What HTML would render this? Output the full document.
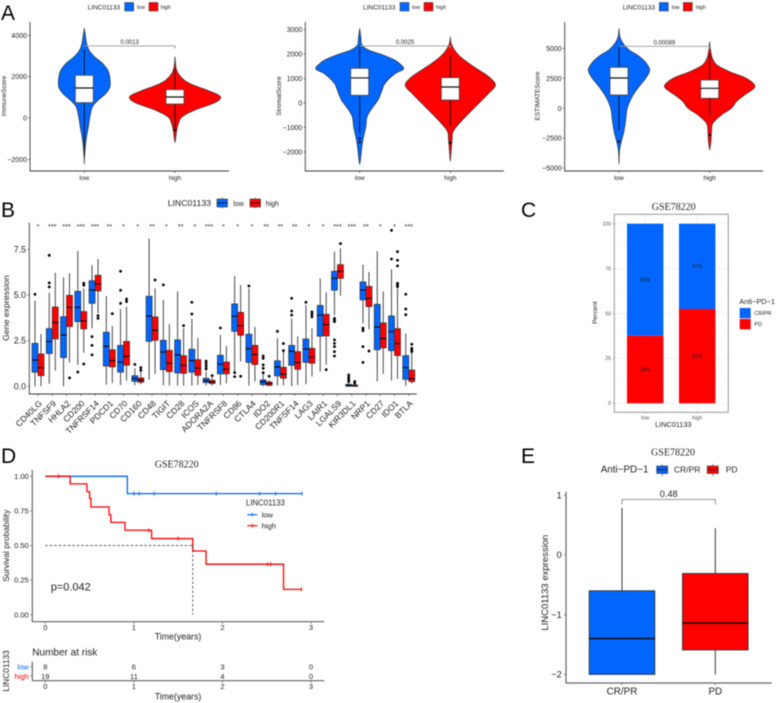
<!DOCTYPE html>
<html>
<head>
<meta charset="utf-8">
<title>LINC01133 figure</title>
<style>
html,body{margin:0;padding:0;background:#fff;width:777px;height:703px;overflow:hidden}
svg{display:block;filter:blur(0.4px)}
text{font-family:"Liberation Sans",sans-serif;fill:#222}
.serif{font-family:"Liberation Serif",serif}
.letter{font-size:21px;fill:#000}
</style>
</head>
<body>
<svg id="figure" width="777" height="703" viewBox="0 0 777 703" xmlns="http://www.w3.org/2000/svg">
<rect width="777" height="703" fill="#fff"/>
<text class="letter" x="1" y="20">A</text>
<text class="letter" x="1" y="217">B</text>
<text class="letter" x="521" y="217">C</text>
<text class="letter" x="1" y="463">D</text>
<text class="letter" x="521" y="463">E</text>

<g id="panelA1"></g>
<g id="panelA2"></g>
<g id="panelA3"></g>
<g id="panelB"></g>
<g id="panelC"></g>
<g id="panelD"></g>
<g id="panelE"></g>

<!-- A legends and titles -->
<g>
<text x="87.7" y="9.5" font-size="6.5">LINC01133</text>
<rect x="124.7" y="2.5" width="9" height="8.5" fill="#0066ff" stroke="#444" stroke-width=".6"/>
<text x="137" y="9.2" font-size="5.3">low</text>
<rect x="149" y="2.5" width="9" height="8.5" fill="#f00" stroke="#444" stroke-width=".6"/>
<text x="160.7" y="9.2" font-size="5.3">high</text>
</g>
<g>
<text x="363" y="9.5" font-size="6.5">LINC01133</text>
<rect x="400" y="2.5" width="9" height="8.5" fill="#0066ff" stroke="#444" stroke-width=".6"/>
<text x="412" y="9.2" font-size="5.3">low</text>
<rect x="424" y="2.5" width="9" height="8.5" fill="#f00" stroke="#444" stroke-width=".6"/>
<text x="436" y="9.2" font-size="5.3">high</text>
</g>
<g>
<text x="622.7" y="9.5" font-size="6.5">LINC01133</text>
<rect x="659.3" y="2.5" width="9" height="8.5" fill="#0066ff" stroke="#444" stroke-width=".6"/>
<text x="671.7" y="9.2" font-size="5.3">low</text>
<rect x="683.3" y="2.5" width="9" height="8.5" fill="#f00" stroke="#444" stroke-width=".6"/>
<text x="695.7" y="9.2" font-size="5.3">high</text>
</g>
<text transform="translate(6.2,96) rotate(-90)" text-anchor="middle" font-size="6.5">ImmuneScore</text>
<text transform="translate(281,96) rotate(-90)" text-anchor="middle" font-size="6.5">StromalScore</text>
<text transform="translate(539.5,96) rotate(-90)" text-anchor="middle" font-size="6.5">ESTIMATEScore</text>

<!-- B legend and title -->
<g>
<text x="167.7" y="206" font-size="8.7">LINC01133</text>
<line x1="222.3" y1="197.5" x2="222.3" y2="208.5" stroke="#444" stroke-width=".7"/>
<rect x="217" y="199" width="10.5" height="8" fill="#0066ff" stroke="#444" stroke-width=".7"/>
<line x1="217" y1="203" x2="227.5" y2="203" stroke="#111" stroke-width=".8"/>
<text x="233.3" y="206" font-size="7">low</text>
<line x1="255.2" y1="197.5" x2="255.2" y2="208.5" stroke="#444" stroke-width=".7"/>
<rect x="250" y="199" width="10.5" height="8" fill="#f00" stroke="#444" stroke-width=".7"/>
<line x1="250" y1="203" x2="260.5" y2="203" stroke="#111" stroke-width=".8"/>
<text x="265.7" y="206" font-size="7">high</text>
</g>
<text transform="translate(9,308) rotate(-90)" text-anchor="middle" font-size="8.7">Gene expression</text>

<!-- C titles and legend -->
<text class="serif" x="673.7" y="210" text-anchor="middle" font-size="10">GSE78220</text>
<text transform="translate(597,312.7) rotate(-90)" text-anchor="middle" font-size="6.5">Percent</text>
<text x="673.3" y="427" text-anchor="middle" font-size="7.3">LINC01133</text>
<g>
<text x="739.3" y="304" font-size="7.4">Anti−PD−1</text>
<rect x="739.7" y="308" width="11" height="10.3" fill="#0066ff"/>
<rect x="739.7" y="319" width="11" height="10.3" fill="#f00"/>
<text x="754.3" y="315.2" font-size="5.5">CR/PR</text>
<text x="754.3" y="326" font-size="5.5">PD</text>
</g>

<!-- D titles and legend -->
<text class="serif" x="176.7" y="467.7" text-anchor="middle" font-size="10">GSE78220</text>
<text transform="translate(9,545.7) rotate(-90)" text-anchor="middle" font-size="8.6">Survival probability</text>
<text x="178" y="639.5" text-anchor="middle" font-size="8.8">Time(years)</text>
<text x="50.7" y="590.7" font-size="11">p=0.042</text>
<g>
<text x="246" y="505.3" font-size="7.8">LINC01133</text>
<line x1="247.3" y1="514.7" x2="257.3" y2="514.7" stroke="#0066ff" stroke-width="1.2"/>
<line x1="252.3" y1="512.7" x2="252.3" y2="516.7" stroke="#0066ff" stroke-width=".8"/>
<text x="261.7" y="517.5" font-size="7.5">low</text>
<line x1="247.3" y1="525.7" x2="257.3" y2="525.7" stroke="#f00" stroke-width="1.2"/>
<line x1="252.3" y1="523.7" x2="252.3" y2="527.7" stroke="#f00" stroke-width=".8"/>
<text x="261.7" y="528.5" font-size="7.5">high</text>
</g>
<text x="32.3" y="655.5" font-size="10">Number at risk</text>
<text transform="translate(9,671) rotate(-90)" text-anchor="middle" font-size="8.3">LINC01133</text>
<text x="178" y="699.5" text-anchor="middle" font-size="8.8">Time(years)</text>
<text x="28.7" y="669.3" text-anchor="end" font-size="7.5" style="fill:#0066ff">low</text>
<text x="28.7" y="678.8" text-anchor="end" font-size="7.5" style="fill:#f00">high</text>

<!-- E titles and legend -->
<text class="serif" x="673" y="455.5" text-anchor="middle" font-size="10">GSE78220</text>
<g>
<text x="600.7" y="472.7" font-size="9.9">Anti−PD−1</text>
<line x1="662.2" y1="464" x2="662.2" y2="476" stroke="#444" stroke-width=".7"/>
<rect x="656.7" y="466" width="11" height="7.5" fill="#0066ff" stroke="#444" stroke-width=".7"/>
<line x1="656.7" y1="469.7" x2="667.7" y2="469.7" stroke="#111" stroke-width=".8"/>
<text x="674" y="472.5" font-size="8.5">CR/PR</text>
<line x1="712.8" y1="464" x2="712.8" y2="476" stroke="#444" stroke-width=".7"/>
<rect x="707.3" y="466" width="11" height="7.5" fill="#f00" stroke="#444" stroke-width=".7"/>
<line x1="707.3" y1="469.7" x2="718.3" y2="469.7" stroke="#111" stroke-width=".8"/>
<text x="725.7" y="472.5" font-size="8.5">PD</text>
</g>
<text transform="translate(548,582.7) rotate(-90)" text-anchor="middle" font-size="9.5">LINC01133 expression</text>
</svg>

<script>
// ---------- Panel A data ----------
const violinCategories = ['low', 'high'];

const immuneTicks = [-2000, 0, 2000, 4000];
const immuneLowLevels = [4340,3936,3613,3290,2968,2645,2323,2000,1516,1193,871,548,65,-419,-903,-1387,-1871,-2242];
const immuneLowDensity = [0,.05,.09,.18,.39,.71,.91,.99,1,.84,.55,.32,.22,.16,.09,.04,.01,0];
const immuneHighLevels = [2968,2484,2161,1839,1597,1355,1113,935,710,387,65,-177,-581,-903,-1194];
const immuneHighDensity = [0,.02,.07,.2,.4,.7,.96,1,.85,.44,.16,.09,.04,.02,0];
const immuneLowBox = [-1871,742,1452,2065,3290];
const immuneHighBox = [-500,677,1016,1371,2403];
const immuneLowOutliers = [];
const immuneHighOutliers = [-581];
const immuneBracket = 3484;
const immunePValue = '0.0013';

const stromalTicks = [-2000, -1000, 0, 1000, 2000, 3000];
const stromalLowLevels = [3060,2650,2377,2172,1967,1762,1557,1380,1189,806,464,123,-219,-560,-970,-1380,-1790,-2130,-2514];
const stromalLowDensity = [0,.03,.05,.2,.53,.8,.95,1,.8,.58,.5,.42,.28,.17,.14,.09,.05,.03,0];
const stromalHighLevels = [2719,2445,2172,1899,1626,1352,1079,738,396,-14,-423,-833,-1175,-1516,-1926,-2390];
const stromalHighDensity = [0,.02,.09,.22,.41,.63,.85,1,.85,.63,.41,.2,.06,.04,.02,0];
const stromalLowBox = [-1243,314,1025,1420,2377];
const stromalHighBox = [-943,123,656,1038,1967];
const stromalLowOutliers = [-1450,-1600];
const stromalHighOutliers = [-1626];
const stromalBracket = 2336;
const stromalPValue = '0.0025';

const estimateTicks = [-5000, -2500, 0, 2500, 5000];
const estimateLowLevels = [6685,5989,5432,4875,4457,3900,3203,2507,1811,975,0,-975,-1950,-2646,-3343,-3900,-4680];
const estimateLowDensity = [0,.03,.13,.33,.6,.85,1,.87,.65,.43,.27,.22,.16,.09,.03,.01,0];
const estimateHighLevels = [5571,4875,4178,3621,3064,2507,1811,1114,557,0,-557,-1253,-1950,-2646,-3482];
const estimateHighDensity = [0,.02,.06,.16,.44,.81,1,.77,.59,.48,.26,.07,.04,.03,0];
const estimateLowBox = [-1866,1114,2535,3426,5153];
const estimateHighBox = [-640,836,1671,2368,4596];
const estimateLowOutliers = [-2785];
const estimateHighOutliers = [-2228];
const estimateBracket = 5181;
const estimatePValue = '0.00089';

// ---------- Panel B data ----------
const geneNames = ['CD40LG','TNFSF9','HHLA2','CD200','TNFRSF14','PDCD1','CD70','CD160','CD48','TIGIT','CD28','ICOS','ADORA2A','TNFRSF8','CD86','CTLA4','IDO2','CD200R1','TNFSF14','LAG3','LAIR1','LGALS9','KIR3DL1','NRP1','CD27','IDO1','BTLA'];
const geneStars = ['*','***','***','***','***','**','*','*','**','*','**','*','***','*','*','*','**','**','**','*','*','***','***','**','*','*','***'];
const geneTicks = [0, 2.5, 5, 7.5];
const geneTickLabels = ['0.0','2.5','5.0','7.5'];
// each box: lower whisker, q1, median, q3, upper whisker
const geneLowBoxes = [
[0,.77,1.44,2.35,4.69],[.13,1.79,2.45,3.16,5.13],[0,1.57,2.81,3.81,5.97],[1.17,3.54,4.32,5.2,7.41],[3.18,4.54,5.27,5.78,6.64],
[.09,1.11,2.19,2.96,4.95],[.07,.77,1.33,2.24,4.23],[.05,.27,.42,.58,.99],[.36,2.46,3.85,4.93,8.1],[.04,.91,1.88,2.52,4.73],
[.04,.73,1.72,2.54,5.2],[.04,.77,1.41,2.03,3.7],[.04,.2,.31,.44,.8],[.07,.68,1.22,1.7,2.81],[.71,3.01,3.83,4.51,6.04],
[.04,1.31,2.06,2.85,5.35],[.01,.09,.25,.35,.8],[.04,.57,1.06,1.4,2.63],[0,1.15,1.92,2.24,3.72],[.11,1.31,2.04,2.59,4.45],
[.8,2.74,3.9,4.43,5.91],[3.9,5.26,5.91,6.3,7.37],[0,0,.05,.11,.2],[3.45,4.73,5.27,5.71,6.66],[.26,2,3.25,4.49,7.39],
[.31,1.95,2.99,3.85,6.41],[.02,.38,1.02,1.68,2.9]];
const geneHighBoxes = [
[0,.58,1.02,1.77,2.86],[.86,2.59,3.49,4.34,6.22],[1.31,3.27,4.32,4.98,6.19],[1.84,3.14,3.58,4.09,5.36],[4,5.22,5.6,6.08,6.97],
[.18,1.06,1.41,2,3.3],[.31,1.15,1.64,2.46,4.36],[.11,.22,.33,.46,.8],[.68,2.52,3.07,3.8,5.36],[.04,.8,1.26,1.97,3.41],
[.04,.71,1.15,1.68,3.18],[.07,.6,1,1.46,2.65],[.04,.15,.24,.33,.47],[.16,.68,.93,1.33,2.21],[1.35,2.79,3.32,4.05,5.55],
[.26,1.19,1.75,2.24,3.25],[0,.05,.15,.24,.35],[.04,.44,.66,1.04,2.03],[.07,.93,1.3,1.9,2.74],[.53,1.26,1.59,2.08,3.18],
[1.17,2.76,3.38,3.94,5.15],[4.96,5.91,6.3,6.66,7.55],[0,0,.02,.07,.1],[3.12,4.36,4.82,5.47,6.26],[.68,2.1,2.61,3.47,5.2],
[.4,1.68,2.34,3.16,5.36],[.15,.26,.42,.89,1.81]];
const geneLowOutliers = [
[5.04],[7.17,5.66,5.44],[],[.78],[2.72,2.24,1.72],
[],[6.3,5.26,4.54],[1.2],[],[5.55],
[],[4.6,3.96],[1.38,1.25,1.1,.95],[3.19],[.75,.53],
[5.49],[1.66,1.53,1.17,.99,.75],[3.01],[4.82,4.12,3.9],[4.6],
[],[3.72,3.63,3.54,2.54,2.35,2.17,1.9,1.66],[.62,.49,.38,.26],[3.18,3.05,2.17,1.31],[],
[8.54,6.97],[5.04,4.23,3.92]];
const geneHighOutliers = [
[],[],[.46],[1.22,5.64,5.53],[3.87,3.72],
[3.98],[4.78,4.64],[1.02,.88],[5.82],[],
[3.32],[],[.58],[],[.55],
[],[.55],[2.34,1.95],[],[4.07,3.94,3.8],
[.91],[7.81],[.26,.16],[1.93],[],
[7.37,6.9,6.59,5.64,5.55,5.46],[2.3,2.08,1.99,1.9]];

// ---------- Panel C data ----------
const stackCategories = ['low','high'];
const stackTicks = [0,25,50,75,100];
const stackPdPercent = [37.6,52.5];
const stackPdLabels = ['38%','53%'];
const stackCrLabels = ['62%','47%'];

// ---------- Panel D data ----------
const survivalYTicks = [0,.25,.5,.75,1];
const survivalYLabels = ['0.00','0.25','0.50','0.75','1.00'];
const survivalXTicks = [0,1,2,3];
const lowEventTimes = [.926];
const lowEventSurvival = [.875];
const lowEndTime = 2.9;
const lowCensorTimes = [1,1.06,1.23,1.93,2.42,2.6,2.9];
const highEventTimes = [.28,.47,.5,.515,.72,.74,.9,1.2,1.665,1.815,2.69];
const highEventSurvival = [.945,.889,.84,.778,.722,.667,.61,.55,.46,.365,.183];
const highEndTime = 2.9;
const highCensorTimes = [.15,1.17,1.5,2.51,2.545,2.89];
const medianSurvivalTime = 1.665;
const riskLow = [8,6,3,0];
const riskHigh = [19,11,4,0];

// ---------- Panel E data ----------
const exprCategories = ['CR/PR','PD'];
const exprTicks = [-2,-1,0,1];
const exprCrBox = [-2,-2,-1.4,-.6,.79];
const exprPdBox = [-2,-1.59,-1.14,-.31,.45];
const exprBracket = .93;
const exprPValue = '0.48';

// ---------- helpers ----------
const NS = 'http://www.w3.org/2000/svg';
const BLUE = '#0066ff', RED = '#ff0000', AX = '#3a3a3a';
function scale(d0, r0, d1, r1) { return v => r0 + (v - d0) * (r1 - r0) / (d1 - d0); }
function line(g, x1, y1, x2, y2, stroke, sw, name, dash) {
  const e = document.createElementNS(NS, 'line');
  e.setAttribute('x1', x1); e.setAttribute('y1', y1); e.setAttribute('x2', x2); e.setAttribute('y2', y2);
  e.setAttribute('stroke', stroke); e.setAttribute('stroke-width', sw);
  if (dash) e.setAttribute('stroke-dasharray', dash);
  
  
  g.appendChild(e); return e;
}
function rect(g, x, y, w, h, fill, stroke, sw, name) {
  const e = document.createElementNS(NS, 'rect');
  e.setAttribute('x', x); e.setAttribute('y', y); e.setAttribute('width', w); e.setAttribute('height', h);
  e.setAttribute('fill', fill);
  if (stroke) { e.setAttribute('stroke', stroke); e.setAttribute('stroke-width', sw); }
  
  
  g.appendChild(e); return e;
}
function circle(g, cx, cy, r, name) {
  const e = document.createElementNS(NS, 'circle');
  e.setAttribute('cx', cx); e.setAttribute('cy', cy); e.setAttribute('r', r); e.setAttribute('fill', '#000');
  
  
  g.appendChild(e); return e;
}
function path(g, d, fill, stroke, sw, name, join) {
  const e = document.createElementNS(NS, 'path');
  e.setAttribute('d', d); e.setAttribute('fill', fill); e.setAttribute('stroke', stroke); e.setAttribute('stroke-width', sw);
  if (join) e.setAttribute('stroke-linejoin', join);
  
  
  g.appendChild(e); return e;
}
function text(g, x, y, str, size, anchor, name, fill, rot) {
  const e = document.createElementNS(NS, 'text');
  if (rot) e.setAttribute('transform', 'translate(' + x + ',' + y + ') rotate(' + rot + ')');
  else { e.setAttribute('x', x); e.setAttribute('y', y); }
  e.setAttribute('font-size', size);
  e.setAttribute('text-anchor', anchor);
  if (fill) e.style.fill = fill;
  
  
  e.textContent = str;
  g.appendChild(e); return e;
}
function fmt(v) { return String(v).replace('-', '\u2212'); }
function smooth(pts) {
  let d = 'M' + pts[0][0] + ' ' + pts[0][1];
  for (let i = 0; i < pts.length - 1; i++) {
    const p0 = pts[Math.max(0, i - 1)], p1 = pts[i], p2 = pts[i + 1], p3 = pts[Math.min(pts.length - 1, i + 2)];
    d += 'C' + (p1[0] + (p2[0] - p0[0]) / 6) + ' ' + (p1[1] + (p2[1] - p0[1]) / 6) + ' ' +
         (p2[0] - (p3[0] - p1[0]) / 6) + ' ' + (p2[1] - (p3[1] - p1[1]) / 6) + ' ' + p2[0] + ' ' + p2[1];
  }
  return d;
}

// ---------- Panel A ----------
function drawViolin(g, cx, halfWidth, levels, density, box, outliers, y, fill, name) {
  const right = levels.map((v, i) => [cx + density[i] * halfWidth, y(v)]);
  const left = levels.map((v, i) => [cx - density[i] * halfWidth, y(v)]).reverse();
  path(g, smooth(right.concat(left.slice(1))) + 'Z', fill, '#333', .7, name + '-violin');
  line(g, cx, y(box[0]), cx, y(box[4]), '#111', .9, name + '-whisker');
  rect(g, cx - 9, y(box[3]), 18, y(box[1]) - y(box[3]), '#fff', '#444', .8, name + '-box');
  line(g, cx - 9, y(box[2]), cx + 9, y(box[2]), '#111', 1.2, name + '-median');
  outliers.forEach(v => circle(g, cx, y(v), 1.2, name + '-outlier'));
}
function drawViolinPanel(id, axisX, axisRight, xLow, xHigh, y, ticks, wLow, wHigh, lowL, lowD, highL, highD, lowB, highB, lowO, highO, bracket, pval) {
  const g = document.getElementById(id);
  const xs = [xLow, xHigh];
  drawViolin(g, xLow, wLow, lowL, lowD, lowB, lowO, y, BLUE, 'low');
  drawViolin(g, xHigh, wHigh, highL, highD, highB, highO, y, RED, 'high');
  line(g, axisX, 22, axisX, 171.5, AX, .9, 'y-axis-line');
  line(g, axisX, 171, axisRight, 171, AX, .9, 'x-axis-line');
  ticks.forEach(t => {
    line(g, axisX - 2, y(t), axisX, y(t), AX, .6, 'y-tick');
    text(g, axisX - 3, y(t) + 2.5, fmt(t), 7, 'end', 'y-tick-label');
  });
  violinCategories.forEach((c, i) => {
    line(g, xs[i], 171, xs[i], 173, AX, .6, 'x-tick');
    text(g, xs[i], 180, c, 6.5, 'middle', 'x-tick-label');
  });
  const by = y(bracket);
  path(g, 'M' + xLow + ' ' + (by + .5) + 'V' + by + 'H' + xHigh + 'V' + (by + 2.5), 'none', '#999', .9, 'significance-bracket');
  text(g, (xLow + xHigh) / 2, by - 1.8, pval, 6, 'middle', 'p-value-label');
}
drawViolinPanel('panelA1', 30, 229, 84.3, 175, scale(0, 118, 4000, 35.3), immuneTicks, 25.7, 45.3,
  immuneLowLevels, immuneLowDensity, immuneHighLevels, immuneHighDensity, immuneLowBox, immuneHighBox, immuneLowOutliers, immuneHighOutliers, immuneBracket, immunePValue);
drawViolinPanel('panelA2', 305.3, 504, 359.7, 450.3, scale(0, 103, 3000, 29.7), stromalTicks, 43.7, 45.2,
  stromalLowLevels, stromalLowDensity, stromalHighLevels, stromalHighDensity, stromalLowBox, stromalHighBox, stromalLowOutliers, stromalHighOutliers, stromalBracket, stromalPValue);
drawViolinPanel('panelA3', 564.7, 763, 619, 709.7, scale(0, 108.3, 5000, 48.5), estimateTicks, 30.7, 45.3,
  estimateLowLevels, estimateLowDensity, estimateHighLevels, estimateHighDensity, estimateLowBox, estimateHighBox, estimateLowOutliers, estimateHighOutliers, estimateBracket, estimatePValue);

// ---------- Panel B ----------
(function () {
  const g = document.getElementById('panelB');
  const y = scale(0, 386.3, 7.5, 249.3);
  const x = i => 38 + i * 14.26;
  function box(cx, b, outs, fill, name) {
    line(g, cx, y(b[0]), cx, y(b[4]), '#333', .9, name + '-whisker');
    rect(g, cx - 3, y(b[3]), 6, Math.max(.5, y(b[1]) - y(b[3])), fill, '#333', .7, name + '-box');
    line(g, cx - 3, y(b[2]), cx + 3, y(b[2]), '#000', 1.1, name + '-median');
    outs.forEach(v => circle(g, cx, y(v), 1.4, name + '-outlier'));
  }
  geneNames.forEach((n, i) => {
    const key = n.toLowerCase();
    box(x(i) - 3, geneLowBoxes[i], geneLowOutliers[i], BLUE, key + '-low');
    box(x(i) + 3, geneHighBoxes[i], geneHighOutliers[i], RED, key + '-high');
    text(g, x(i), 229, geneStars[i], 7.2, 'middle', key + '-significance');
    line(g, x(i), 394, x(i), 396, AX, .6, 'x-tick');
    text(g, x(i) + 4.5, 404, n, 8.5, 'end', key + '-label', null, -45);
  });
  line(g, 29.3, 222.7, 29.3, 394.5, AX, .9, 'y-axis-line');
  line(g, 29.3, 394, 416.7, 394, AX, .9, 'x-axis-line');
  geneTicks.forEach((t, i) => {
    line(g, 27.3, y(t), 29.3, y(t), AX, .6, 'y-tick');
    text(g, 26, y(t) + 3.1, geneTickLabels[i], 8.8, 'end', 'y-tick-label');
  });
})();

// ---------- Panel C ----------
(function () {
  const g = document.getElementById('panelC');
  const y = scale(0, 403.3, 100, 223.7);
  const x = [645.2, 697.2];
  const L = 614.3, R = 728.3, T = 214.3, B = 412.3;
  [12.5, 37.5, 62.5, 87.5].forEach(t => line(g, L, y(t), R, y(t), '#f4f4f4', .4, 'minor-gridline'));
  stackTicks.forEach(t => line(g, L, y(t), R, y(t), '#ebebeb', .7, 'major-gridline'));
  x.forEach(c => line(g, c, T, c, B, '#ebebeb', .7, 'vertical-gridline'));
  stackCategories.forEach((c, i) => {
    const p = stackPdPercent[i];
    rect(g, x[i] - 18.2, y(100), 36.4, y(p) - y(100), BLUE, null, 0, c + '-cr-pr-segment');
    rect(g, x[i] - 18.2, y(p), 36.4, y(0) - y(p), RED, null, 0, c + '-pd-segment');
    text(g, x[i], y((p + 100) / 2) + 1.8, stackCrLabels[i], 5, 'middle', c + '-cr-pr-percent');
    text(g, x[i], y(p / 2) + 1.8, stackPdLabels[i], 5, 'middle', c + '-pd-percent');
    line(g, x[i], B, x[i], B + 1.5, '#666', .5, 'x-tick');
    text(g, x[i], 419.5, c, 5.4, 'middle', c + '-tick-label', '#555');
  });
  rect(g, L, T, R - L, B - T, 'none', '#999', 1, 'panel-border');
  stackTicks.forEach(t => {
    line(g, L - 1.5, y(t), L, y(t), '#666', .5, 'y-tick');
    text(g, 611, y(t) + 1.8, String(t), 5.2, 'end', 'y-tick-label', '#555');
  });
})();

// ---------- Panel D ----------
(function () {
  const g = document.getElementById('panelD');
  const x = scale(0, 45.3, 3, 311);
  const y = scale(0, 614.7, 1, 476.3);
  function stepPath(times, surv, end) {
    let d = 'M' + x(0) + ' ' + y(1);
    times.forEach((t, i) => { d += 'H' + x(t) + 'V' + y(surv[i]); });
    return d + 'H' + x(end);
  }
  function survivalAt(t, times, surv) {
    let s = 1;
    times.forEach((e, i) => { if (e <= t) s = surv[i]; });
    return s;
  }
  function censors(times, evT, evS, color, name) {
    times.forEach(t => {
      const s = survivalAt(t, evT, evS);
      line(g, x(t), y(s) - 2, x(t), y(s) + 2, color, .9, name + '-censor-mark');
    });
  }
  path(g, stepPath(lowEventTimes, lowEventSurvival, lowEndTime), 'none', BLUE, 1.3, 'low-survival-curve', 'miter');
  censors(lowCensorTimes, lowEventTimes, lowEventSurvival, BLUE, 'low');
  path(g, stepPath(highEventTimes, highEventSurvival, highEndTime), 'none', RED, 1.3, 'high-survival-curve', 'miter');
  censors(highCensorTimes, highEventTimes, highEventSurvival, RED, 'high');
  line(g, x(0), y(.5), x(medianSurvivalTime), y(.5), '#222', .7, 'median-horizontal-line', '2.5 2');
  line(g, x(medianSurvivalTime), y(.5), x(medianSurvivalTime), y(0), '#222', .7, 'median-vertical-line', '2.5 2');
  line(g, 32.3, 470, 32.3, 622, AX, .9, 'y-axis-line');
  line(g, 32.3, 621.7, 324.3, 621.7, AX, .9, 'x-axis-line');
  survivalYTicks.forEach((t, i) => {
    line(g, 30.3, y(t), 32.3, y(t), AX, .6, 'y-tick');
    text(g, 28.7, y(t) + 2.6, survivalYLabels[i], 7.5, 'end', 'y-tick-label');
  });
  survivalXTicks.forEach((t, i) => {
    line(g, x(t), 621.7, x(t), 623.7, AX, .6, 'x-tick');
    text(g, x(t), 630, String(t), 7.5, 'middle', 'x-tick-label');
    // risk table
    line(g, x(t), 680.7, x(t), 682.7, AX, .6, 'risk-x-tick');
    text(g, x(t), 689, String(t), 7.5, 'middle', 'risk-x-tick-label');
    text(g, x(t), 669.3, String(riskLow[i]), 7.5, 'middle', 'risk-low-count');
    text(g, x(t), 678.8, String(riskHigh[i]), 7.5, 'middle', 'risk-high-count');
  });
  line(g, 32.3, 661.7, 32.3, 681, AX, .9, 'risk-y-axis-line');
  line(g, 32.3, 680.7, 324.3, 680.7, AX, .9, 'risk-x-axis-line');
  line(g, 30.3, 666.7, 32.3, 666.7, AX, .6, 'risk-y-tick');
  line(g, 30.3, 676, 32.3, 676, AX, .6, 'risk-y-tick');
})();

// ---------- Panel E ----------
(function () {
  const g = document.getElementById('panelE');
  const y = scale(0, 555, 1, 495.3);
  const x = [622, 715.3];
  const boxes = [exprCrBox, exprPdBox];
  const fills = [BLUE, RED];
  exprCategories.forEach((c, i) => {
    const b = boxes[i], key = c.toLowerCase().replace('/', '-');
    line(g, x[i], y(b[0]), x[i], y(b[4]), '#333', 1, key + '-whisker');
    rect(g, x[i] - 32.8, y(b[3]), 65.6, y(b[1]) - y(b[3]), fills[i], '#333', .9, key + '-box');
    line(g, x[i] - 32.8, y(b[2]), x[i] + 32.8, y(b[2]), '#000', 1.3, key + '-median');
    line(g, x[i], 683, x[i], 685, '#555', .7, 'x-tick');
    text(g, x[i], 694.5, c, 9.9, 'middle', key + '-tick-label');
  });
  const by = y(exprBracket);
  path(g, 'M' + x[0] + ' ' + (by + 5) + 'V' + by + 'H' + x[1] + 'V' + (by + 5), 'none', '#777', .8, 'significance-bracket');
  text(g, (x[0] + x[1]) / 2, by - 2.5, exprPValue, 9.2, 'middle', 'p-value-label');
  line(g, 566, 491.7, 566, 683.5, '#666', 1.2, 'y-axis-line');
  line(g, 566, 683, 771.7, 683, '#666', 1.2, 'x-axis-line');
  exprTicks.forEach(t => {
    line(g, 564, y(t), 566, y(t), '#555', .7, 'y-tick');
    text(g, 561.7, y(t) + 3.2, fmt(t), 9.2, 'end', 'y-tick-label');
  });
})();
</script>
</body>
</html>
